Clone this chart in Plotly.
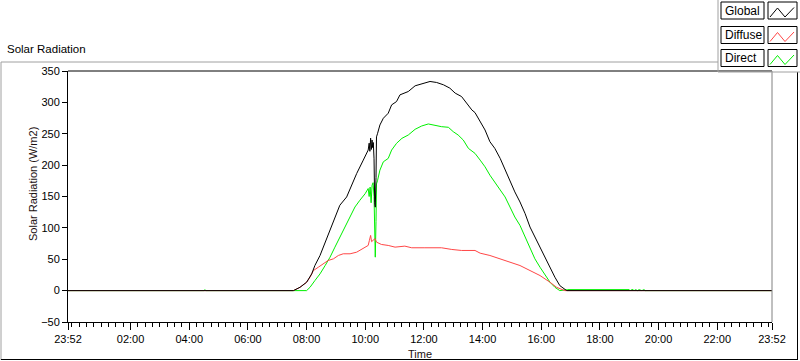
import plotly.graph_objects as go

# ---------------- data ----------------
DAY = "2024-01-02 "
START = "2024-01-01 23:52:00"
END = "2024-01-02 23:52:00"

global_times = ["07:33:00", "07:46:30", "08:00:00", "08:10:30", "08:17:00", "08:27:30", "08:34:00",
                "08:48:00", "08:58:00", "09:08:00", "09:22:00", "09:32:00", "09:42:30", "09:56:00",
                "10:06:00", "10:08:00", "10:09:30", "10:11:00", "10:12:30", "10:14:00", "10:15:00",
                "10:16:30", "10:18:00", "10:19:20", "10:20:30", "10:22:00", "10:23:00", "10:25:00",
                "10:29:00", "10:30:00", "10:37:00", "10:47:00", "10:54:00", "11:04:00", "11:11:00",
                "11:21:00", "11:28:00", "11:42:00", "11:55:30", "12:12:30", "12:26:00", "12:40:00",
                "12:53:00", "13:04:00", "13:17:00", "13:27:30", "13:38:00", "13:44:30", "13:55:00",
                "14:05:00", "14:15:00", "14:25:00", "14:36:00", "14:46:00", "14:56:00", "15:06:00",
                "15:16:30", "15:27:00", "15:37:00", "15:47:00", "15:57:30", "16:08:00", "16:18:00",
                "16:28:00", "16:38:00", "16:52:00"]
global_values = [0, 5.3, 13.3, 26.7, 40, 56, 69.3,
                 96, 117.3, 136, 149.3, 168, 186.7, 208,
                 224, 235, 222, 243, 225, 240, 228,
                 236, 210, 140, 133, 180, 245, 250,
                 260, 264, 274.7, 282.7, 296, 301.3, 312,
                 314.7, 317.3, 326.4, 329.6, 333.3, 331.7, 328,
                 322.7, 314.7, 309.3, 298.7, 288, 283.7, 269.3,
                 256, 237.3, 226.7, 210.7, 192, 176, 157.3,
                 141.3, 122.7, 101.3, 85.3, 69.3, 50.7, 34.7,
                 21.3, 8, 0]

diffuse_times = ["07:33:00", "07:46:30", "08:00:00", "08:07:00", "08:14:00", "08:24:00", "08:34:00",
                 "08:44:00", "08:55:00", "09:05:00", "09:15:00", "09:29:00", "09:42:30", "09:56:00",
                 "10:06:00", "10:08:30", "10:11:00", "10:13:00", "10:16:30", "10:20:00", "10:23:00",
                 "10:30:00", "10:33:00", "10:47:00", "11:01:00", "11:21:00", "11:35:00", "12:02:00",
                 "12:36:00", "12:57:00", "13:17:00", "13:44:30", "13:55:00", "14:15:00", "14:36:00",
                 "14:56:00", "15:16:30", "15:37:00", "15:57:30", "16:18:00", "16:31:30", "16:48:00"]
diffuse_values = [0, 5.3, 13.3, 21.3, 32, 37.3, 42.7,
                  48, 50.7, 56, 58.7, 58.7, 61.3, 66.7,
                  72, 80, 88, 78, 80, 83, 77.3,
                  74.7, 73.6, 72, 69.3, 70.9, 68.3, 68.3,
                  68.3, 65.6, 64, 64, 59.7, 56, 50.7,
                  45.3, 40, 32, 24, 13.3, 5.3, 0]

direct_times = ["04:30:00", "04:32:00", "04:34:00",
                "08:00:00", "08:07:00", "08:17:00", "08:27:30", "08:38:00", "08:48:00", "08:58:00",
                "09:08:00", "09:19:00", "09:29:00", "09:39:00", "09:49:00", "10:00:00", "10:06:00",
                "10:08:00", "10:10:00", "10:12:00", "10:14:00", "10:16:00", "10:18:00", "10:19:20",
                "10:20:30", "10:22:00", "10:23:00", "10:25:00", "10:30:00", "10:37:00", "10:47:00",
                "10:54:00", "11:04:00", "11:15:00", "11:28:00", "11:42:00", "11:55:30", "12:09:00",
                "12:23:00", "12:36:00", "12:50:00", "13:00:00", "13:10:00", "13:20:30", "13:31:00",
                "13:44:30", "13:55:00", "14:05:00", "14:15:00", "14:25:00", "14:36:00", "14:46:00",
                "14:56:00", "15:06:00", "15:16:30", "15:27:00", "15:37:00", "15:47:00", "15:57:30",
                "16:08:00", "16:18:00", "16:28:00", "16:38:00", "16:54:00", "19:00:00", "19:02:00",
                "19:05:00", "19:08:00", "19:10:00", "19:13:00", "19:17:00", "19:20:00", "19:26:00",
                "19:30:00", "19:33:00"]
direct_values = [0, 1.6, 0,
                 0, 5.3, 16, 26.7, 40, 53.3, 69.3,
                 85.3, 101.3, 117.3, 133.3, 144, 154.7, 162.7,
                 150, 165, 140, 168, 172, 150, 60,
                 53.3, 110, 170, 175, 192, 205.3, 210.7,
                 224, 234.7, 242.7, 248, 257.1, 262.4, 265.6,
                 262.9, 261.3, 260.3, 253.3, 248, 240, 226.7,
                 218.7, 208, 197.3, 184, 173.3, 160, 149.3,
                 133.3, 117.3, 104, 85.3, 66.7, 50.7, 37.3,
                 24, 13.3, 5.3, 0, 1.6, 1.6, 0,
                 1.6, 1.6, 0, 1.6, 0, 1.6, 0,
                 1.6, 0]

tick_times = [START, DAY + "02:00:00", DAY + "04:00:00", DAY + "06:00:00", DAY + "08:00:00",
              DAY + "10:00:00", DAY + "12:00:00", DAY + "14:00:00", DAY + "16:00:00",
              DAY + "18:00:00", DAY + "20:00:00", DAY + "22:00:00", END]
tick_labels = ["23:52", "02:00", "04:00", "06:00", "08:00", "10:00", "12:00", "14:00",
               "16:00", "18:00", "20:00", "22:00", "23:52"]

series_names = ["Global", "Diffuse", "Direct"]
series_colors = ["#000000", "#ff4646", "#00f000"]


def stamp(ts):
    return [START] + [DAY + t for t in ts] + [END]


def pad(vs):
    return [0] + list(vs) + [0]


# ---------------- figure ----------------
W, H = 800, 361
L, R, T, B = 68, 28, 71, 39
PW, PH = W - L - R, H - T - B


def px(x):
    return (x - L) / PW


def py(y):
    return (H - B - y) / PH


fig = go.Figure()
fig.add_trace(go.Scatter(x=stamp(direct_times), y=pad(direct_values), mode="lines",
                         line=dict(color=series_colors[2], width=1), name="Direct"))
fig.add_trace(go.Scatter(x=stamp(diffuse_times), y=pad(diffuse_values), mode="lines",
                         line=dict(color=series_colors[1], width=1), name="Diffuse"))
fig.add_trace(go.Scatter(x=stamp(global_times), y=pad(global_values), mode="lines",
                         line=dict(color=series_colors[0], width=1), name="Global"))

font_family = "Liberation Sans"

fig.update_layout(
    width=W, height=H,
    margin=dict(l=L, r=R, t=T, b=B, pad=0, autoexpand=False),
    paper_bgcolor="white", plot_bgcolor="white",
    showlegend=False,
    font=dict(family=font_family, size=11, color="#000000"),
    xaxis=dict(
        type="date", range=[START, END], automargin=False,
        tickmode="array", tickvals=tick_times, ticktext=tick_labels, tickangle=0,
        ticks="outside", ticklen=7, tickcolor="#000000", tickwidth=1,
        showline=True, linecolor="#000000", linewidth=1,
        showgrid=False, zeroline=False,
        tickfont=dict(family=font_family, size=11, color="#000000"),
        minor=dict(tickmode="linear", tick0=DAY + "00:00:00", dtick=900000,
                   ticks="outside", ticklen=4, tickcolor="#000000", showgrid=False),
    ),
    yaxis=dict(
        range=[-50, 350], tickmode="linear", tick0=-50, dtick=50, automargin=False,
        ticks="outside", ticklen=5, tickcolor="#000000",
        showline=True, linecolor="#000000", linewidth=1,
        showgrid=False, zeroline=False,
        tickfont=dict(family=font_family, size=11, color="#000000"),
    ),
)

shapes = []
# plot frame: black top, gray right
shapes.append(dict(type="line", xref="paper", yref="paper", x0=0, x1=1, y0=1, y1=1,
                   line=dict(color="#000000", width=1)))
shapes.append(dict(type="line", xref="paper", yref="paper", x0=1, x1=1, y0=0, y1=1,
                   line=dict(color="#808080", width=1)))
# outer frame
shapes.append(dict(type="line", xref="paper", yref="paper", x0=px(1), x1=px(718), y0=py(62), y1=py(62),
                   line=dict(color="#a0a0a0", width=1)))
shapes.append(dict(type="line", xref="paper", yref="paper", x0=px(1), x1=px(1), y0=py(62), y1=py(360),
                   line=dict(color="#a0a0a0", width=1)))
shapes.append(dict(type="line", xref="paper", yref="paper", x0=px(1), x1=px(798), y0=py(359.5), y1=py(359.5),
                   line=dict(color="#000000", width=1)))
shapes.append(dict(type="line", xref="paper", yref="paper", x0=px(797.5), x1=px(797.5), y0=py(72), y1=py(360),
                   line=dict(color="#000000", width=1)))
# legend panel border
shapes.append(dict(type="line", xref="paper", yref="paper", x0=px(718), x1=px(718), y0=py(0), y1=py(72),
                   line=dict(color="#a0a0a0", width=1)))
shapes.append(dict(type="line", xref="paper", yref="paper", x0=px(718), x1=px(800), y0=py(72), y1=py(72),
                   line=dict(color="#a0a0a0", width=1)))

annotations = []
legend_tops = [2, 26.5, 49.5]
for name, color, top in zip(series_names, series_colors, legend_tops):
    bot = top + 17
    shapes.append(dict(type="rect", xref="paper", yref="paper", x0=px(721), x1=px(764),
                       y0=py(bot), y1=py(top), line=dict(color="#000000", width=1), fillcolor="white"))
    shapes.append(dict(type="rect", xref="paper", yref="paper", x0=px(768), x1=px(797),
                       y0=py(bot), y1=py(top), line=dict(color="#000000", width=1), fillcolor="white"))
    zz = "M {},{} L {},{} L {},{} L {},{}".format(
        px(770), py(top + 15), px(777.5), py(top + 6), px(785), py(top + 15), px(794), py(top + 5.5))
    shapes.append(dict(type="path", xref="paper", yref="paper", path=zz,
                       line=dict(color=color, width=1)))
    annotations.append(dict(text=name, xref="paper", yref="paper", x=px(723), y=py(top + 8.5),
                            xanchor="left", yanchor="middle", showarrow=False,
                            font=dict(family=font_family, size=12, color="#000000")))

annotations.append(dict(text="Solar Radiation", xref="paper", yref="paper", x=px(5), y=py(49),
                        xanchor="left", yanchor="middle", showarrow=False,
                        font=dict(family=font_family, size=11.5, color="#000000")))
annotations.append(dict(text="Solar Radiation (W/m2)", xref="paper", yref="paper", x=px(33), y=py(184),
                        xanchor="center", yanchor="middle", textangle=-90, showarrow=False,
                        font=dict(family=font_family, size=11, color="#1a1010")))
annotations.append(dict(text="Time", xref="paper", yref="paper", x=px(420), y=py(354),
                        xanchor="center", yanchor="middle", showarrow=False,
                        font=dict(family=font_family, size=11, color="#1a1010")))

fig.update_layout(shapes=shapes, annotations=annotations)
fig.write_html("out.html",
               config={"displayModeBar": False},
               post_script="document.body.style.margin='0';document.body.style.padding='0';"
                           "document.documentElement.style.overflow='hidden';")
